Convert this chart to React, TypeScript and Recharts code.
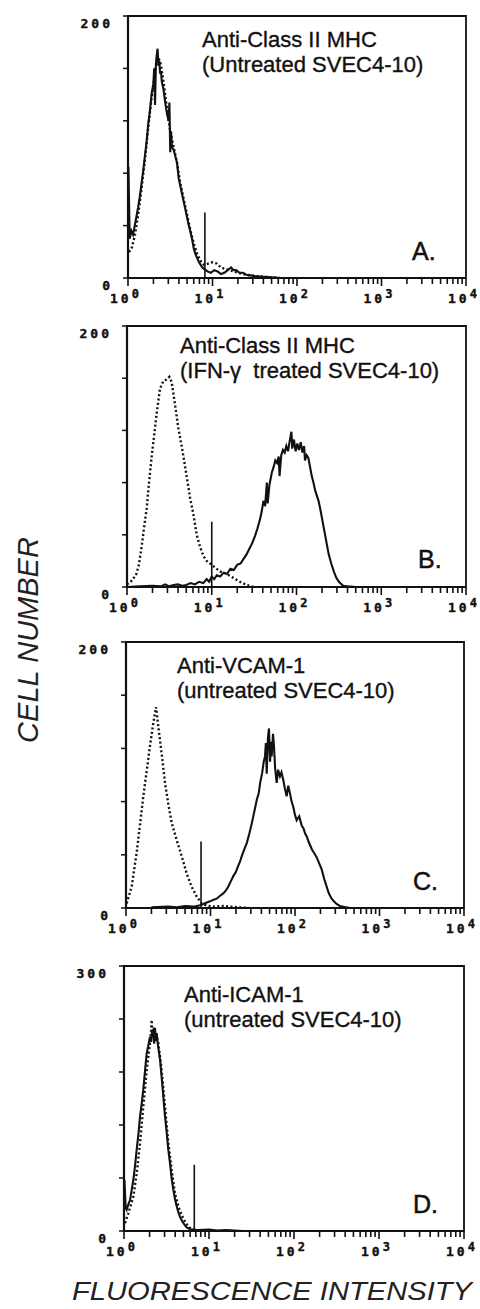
import React from "react";
import { LineChart, Line, XAxis, YAxis, ReferenceArea, ReferenceLine } from "recharts";

// x values are log10(fluorescence intensity): 0 = 10^0 ... 4 = 10^4

// A. anti-class II MHC, untreated
const aSolidLog = [0.005, 0.02, 0.04, 0.06, 0.08, 0.1, 0.12, 0.14, 0.16, 0.18, 0.2, 0.22, 0.24, 0.26, 0.28, 0.3, 0.31, 0.32, 0.33, 0.34, 0.35, 0.36, 0.37, 0.38, 0.39, 0.4, 0.42, 0.44, 0.46, 0.48, 0.49, 0.5, 0.51, 0.52, 0.54, 0.56, 0.58, 0.6, 0.62, 0.64, 0.66, 0.68, 0.7, 0.72, 0.74, 0.76, 0.78, 0.8, 0.82, 0.84, 0.86, 0.88, 0.9, 0.94, 0.98, 1.02, 1.06, 1.1, 1.14, 1.18, 1.22, 1.25, 1.28, 1.32, 1.36, 1.4, 1.45, 1.5, 1.6, 1.7, 1.8];
const aSolidCount = [85, 30, 36, 33, 40, 47, 54, 62, 72, 82, 93, 104, 118, 128, 141, 148, 160, 132, 163, 170, 175, 162, 166, 156, 158, 150, 144, 134, 126, 120, 134, 96, 112, 100, 98, 93, 88, 76, 70, 64, 58, 52, 46, 40, 35, 29, 22, 18, 15, 12, 10, 8, 7, 5, 4, 6, 5, 3, 4, 6, 8, 6, 6, 4, 4, 2.5, 2, 1.5, 1, 0.5, 0];
const aDottedLog = [0.01, 0.04, 0.08, 0.12, 0.16, 0.2, 0.24, 0.28, 0.32, 0.35, 0.38, 0.42, 0.46, 0.5, 0.54, 0.58, 0.62, 0.66, 0.7, 0.74, 0.78, 0.82, 0.86, 0.9, 0.95, 1.0, 1.05, 1.1, 1.15, 1.2, 1.25, 1.3, 1.4, 1.5, 1.6, 1.7, 1.8];
const aDottedCount = [20, 22, 32, 48, 68, 90, 115, 138, 158, 168, 166, 150, 130, 112, 100, 88, 72, 60, 48, 36, 26, 18, 13, 10, 11, 12, 11, 8, 7, 6, 5, 4, 2.5, 1.5, 1, 0.5, 0];

// B. anti-class II MHC, IFN-gamma treated
const bSolidLog = [0, 0.15, 0.3, 0.4, 0.45, 0.5, 0.55, 0.6, 0.65, 0.7, 0.75, 0.8, 0.85, 0.9, 0.94, 0.97, 1.0, 1.03, 1.06, 1.1, 1.14, 1.18, 1.22, 1.26, 1.3, 1.34, 1.37, 1.41, 1.45, 1.48, 1.51, 1.54, 1.57, 1.59, 1.61, 1.63, 1.65, 1.66, 1.68, 1.71, 1.73, 1.75, 1.77, 1.79, 1.8, 1.82, 1.84, 1.86, 1.88, 1.9, 1.92, 1.94, 1.95, 1.97, 1.99, 2.01, 2.03, 2.05, 2.07, 2.09, 2.1, 2.12, 2.14, 2.16, 2.18, 2.2, 2.22, 2.24, 2.26, 2.28, 2.3, 2.32, 2.34, 2.36, 2.38, 2.41, 2.44, 2.47, 2.5, 2.55, 2.6, 2.7];
const bSolidCount = [0, 0.5, 1, 0.5, 2, 0.5, 1.5, 2, 1, 1.5, 3, 2, 4, 3, 6, 4, 8, 6, 9, 8, 11, 10, 14, 13, 17, 18, 21, 25, 30, 34, 39, 45, 52, 58, 66, 62, 80, 64, 78, 88, 92, 97, 95, 100, 85, 101, 105, 103, 108, 104, 112, 119, 106, 113, 104, 110, 105, 111, 103, 108, 97, 101, 99, 92, 85, 80, 74, 70, 66, 60, 53, 46, 39, 32, 25, 18, 12, 7, 4, 1, 0.5, 0];
const bDottedLog = [0, 0.06, 0.11, 0.14, 0.173, 0.2, 0.232, 0.26, 0.291, 0.32, 0.35, 0.389, 0.43, 0.468, 0.5, 0.527, 0.566, 0.605, 0.645, 0.704, 0.745, 0.783, 0.822, 0.861, 0.9, 0.94, 1.018, 1.097, 1.176, 1.254, 1.333, 1.412, 1.5];
const bDottedCount = [2, 5, 10, 17, 31, 45, 60, 80, 100, 116, 133, 152, 158, 159, 161, 157, 140, 122, 108, 85, 68, 56, 40, 31, 24, 20, 16, 12, 10, 7, 4, 1.5, 0];

// C. anti-VCAM-1, untreated
const cSolidLog = [0.3, 0.5, 0.6, 0.7, 0.8, 0.88, 0.915, 0.95, 0.994, 1.03, 1.073, 1.11, 1.151, 1.18, 1.21, 1.24, 1.27, 1.3, 1.33, 1.35, 1.37, 1.4, 1.43, 1.46, 1.49, 1.51, 1.53, 1.55, 1.57, 1.59, 1.61, 1.63, 1.645, 1.655, 1.665, 1.68, 1.692, 1.705, 1.715, 1.724, 1.74, 1.751, 1.765, 1.783, 1.8, 1.822, 1.84, 1.862, 1.88, 1.901, 1.92, 1.941, 1.96, 1.98, 2.0, 2.02, 2.05, 2.079, 2.1, 2.12, 2.138, 2.16, 2.18, 2.2, 2.23, 2.257, 2.29, 2.316, 2.345, 2.375, 2.4, 2.434, 2.46, 2.493, 2.53, 2.572, 2.65];
const cSolidCount = [0.5, 1, 0.5, 1.5, 1, 2, 3, 4, 5, 6, 7, 9, 11, 13, 16, 20, 24, 27, 32, 35, 39, 44, 49, 56, 64, 70, 76, 82, 86, 95, 101, 110, 114, 124, 101, 128, 135, 110, 125, 114, 131, 122, 105, 94, 104, 99, 102, 96, 90, 84, 92, 86, 80, 76, 70, 66, 69, 62, 60, 56, 54, 50, 47, 44, 41, 38, 33, 29, 22, 16, 11, 7, 5, 3, 1.5, 1, 0];
const cDottedLog = [0.008, 0.067, 0.127, 0.166, 0.205, 0.245, 0.284, 0.323, 0.355, 0.383, 0.422, 0.462, 0.501, 0.541, 0.6, 0.659, 0.718, 0.777, 0.837, 0.896, 0.955, 1.05, 1.15, 1.25, 1.35, 1.45];
const cDottedCount = [3.5, 16, 42, 63, 84, 103, 122, 139, 151, 136, 116, 94, 78, 64, 51, 39, 26, 16, 8.5, 3.5, 1.7, 1, 1.5, 1, 0.5, 0];

// D. anti-ICAM-1, untreated
const dSolidLog = [0.005, 0.02, 0.031, 0.05, 0.071, 0.09, 0.11, 0.13, 0.149, 0.17, 0.188, 0.21, 0.227, 0.25, 0.267, 0.29, 0.306, 0.32, 0.33, 0.345, 0.355, 0.365, 0.375, 0.384, 0.4, 0.424, 0.445, 0.463, 0.48, 0.502, 0.52, 0.541, 0.56, 0.58, 0.6, 0.62, 0.64, 0.659, 0.68, 0.698, 0.72, 0.737, 0.776, 0.86, 1.0, 1.1, 1.2, 1.3, 1.4];
const dSolidCount = [58, 26, 24, 30, 35, 46, 58, 74, 92, 110, 129, 146, 160, 184, 201, 212, 220, 214, 226, 228, 212, 230, 215, 224, 210, 194, 172, 152, 132, 112, 93, 77, 60, 47, 36, 28, 21, 16, 12, 9, 6, 4, 2, 1, 1.5, 0.5, 1, 0.5, 0];
const dDottedLog = [0.012, 0.051, 0.11, 0.149, 0.188, 0.227, 0.267, 0.306, 0.318, 0.325, 0.335, 0.357, 0.38, 0.404, 0.443, 0.482, 0.522, 0.561, 0.6, 0.639, 0.678, 0.718, 0.757, 0.796, 0.9];
const dDottedCount = [9, 20, 39, 65, 99, 141, 182, 213, 225, 239, 222, 220, 222, 213, 182, 141, 99, 69, 42, 28, 18, 10.6, 5, 2, 0];

// gate marker position (log10) and height (cells)
const gateLog = [0.91, 1.0, 0.888, 0.827];
const gateHeight = [50, 50, 50, 75];

const yMaxes = [200, 200, 200, 300];
const ySteps = [40, 40, 40, 60];
const decades = [0, 1, 2, 3, 4];
const minorSteps = [2, 3, 4, 5, 6, 7, 8, 9];

const titles = [
  ["Anti-Class II MHC", "(Untreated SVEC4-10)"],
  ["Anti-Class II MHC", "(IFN-\u03b3  treated SVEC4-10)"],
  ["Anti-VCAM-1", "(untreated SVEC4-10)"],
  ["Anti-ICAM-1", "(untreated SVEC4-10)"],
];
const letters = ["A.", "B.", "C.", "D."];

const pts = (xs: number[], ys: number[]) => xs.map((x, i) => ({ x, y: ys[i] }));

const xTicks = decades.flatMap((d) =>
  d < 4 ? [d, ...minorSteps.map((m) => d + Math.log10(m))] : [d]
);

const tickFont = "'DejaVu Sans Mono', monospace";
const sans = "'Liberation Sans', Arial, Helvetica, sans-serif";
const ink = "#111";

function XTick({ x, y, payload }: any) {
  const v = payload.value;
  const major = Math.abs(v - Math.round(v)) < 1e-6;
  return (
    <g>
      <line x1={x} x2={x} y1={y} y2={y + (major ? 8 : 6)} stroke={ink} strokeWidth={1.6} />
      {major && (
        <text x={x - 18} y={y + 25} fontFamily={tickFont} fontWeight="bold" fontSize={13} letterSpacing={3} fill={ink} stroke={ink} strokeWidth={0.4}>
          10
          <tspan dy={-5} fontSize={12}>{Math.round(v)}</tspan>
        </text>
      )}
    </g>
  );
}

function makeYTick(yMax: number) {
  return ({ x, y, payload }: any) => {
    const v = payload.value;
    return (
      <g>
        <line x1={x - 5} x2={x} y1={y} y2={y} stroke={ink} strokeWidth={1.5} />
        {(v === 0 || v === yMax) && (
          <text x={x - 15} y={y + 12} textAnchor="end" fontFamily={tickFont} fontWeight="bold" fontSize={13} letterSpacing={3} fill={ink} stroke={ink} strokeWidth={0.4}>
            {v}
          </text>
        )}
      </g>
    );
  };
}

type Box = { left: number; right: number; top: number; bottom: number };

function Panel({ box, i, solid, dotted }: { box: Box; i: number; solid: any[]; dotted: any[] }) {
  const yMax = yMaxes[i];
  const yTicks: number[] = [];
  for (let v = 0; v <= yMax; v += ySteps[i]) yTicks.push(v);
  return (
    <div style={{ position: "absolute", left: 0, top: box.top - 10 }}>
      <LineChart
        width={480}
        height={box.bottom - box.top + 44}
        margin={{ top: 10, right: 480 - box.right, bottom: 0, left: 0 }}
      >
        <XAxis
          type="number"
          dataKey="x"
          domain={[0, 4]}
          ticks={xTicks}
          interval={0}
          tick={XTick}
          tickSize={0}
          tickMargin={0}
          tickLine={false}
          axisLine={{ stroke: ink, strokeWidth: 2.2 }}
          height={34}
          allowDataOverflow
        />
        <YAxis
          type="number"
          domain={[0, yMax]}
          ticks={yTicks}
          interval={0}
          tick={makeYTick(yMax)}
          tickSize={0}
          tickMargin={0}
          tickLine={false}
          axisLine={{ stroke: ink, strokeWidth: 2.2 }}
          width={box.left}
          allowDataOverflow
        />
        <ReferenceArea x1={0} x2={4} y1={0} y2={yMax} fill="none" stroke={ink} strokeWidth={1.8} />
        <ReferenceLine
          segment={[
            { x: gateLog[i], y: 0 },
            { x: gateLog[i], y: gateHeight[i] },
          ]}
          stroke={ink}
          strokeWidth={1.6}
        />
        <Line
          data={dotted}
          dataKey="y"
          type="linear"
          stroke={ink}
          strokeWidth={2.4}
          strokeDasharray="2 2.4"
          dot={false}
          isAnimationActive={false}
        />
        <Line
          data={solid}
          dataKey="y"
          type="linear"
          stroke={ink}
          strokeWidth={2.1}
          dot={false}
          isAnimationActive={false}
        />
      </LineChart>
    </div>
  );
}

const boxes: Box[] = [
  { left: 128, right: 466, top: 16, bottom: 278 },
  { left: 127, right: 466, top: 326, bottom: 587 },
  { left: 126, right: 464, top: 642, bottom: 908 },
  { left: 124, right: 464, top: 966, bottom: 1231 },
];
const titlePos = [
  { x: 202, y: 47 },
  { x: 180, y: 353 },
  { x: 177, y: 673 },
  { x: 184, y: 1002 },
];
const letterPos = [
  { x: 412, y: 260 },
  { x: 418, y: 568 },
  { x: 413, y: 890 },
  { x: 413, y: 1213 },
];

export default function App() {
  const series = [
    [pts(aSolidLog, aSolidCount), pts(aDottedLog, aDottedCount)],
    [pts(bSolidLog, bSolidCount), pts(bDottedLog, bDottedCount)],
    [pts(cSolidLog, cSolidCount), pts(cDottedLog, cDottedCount)],
    [pts(dSolidLog, dSolidCount), pts(dDottedLog, dDottedCount)],
  ];
  return (
    <div style={{ position: "absolute", left: 0, top: 0, width: 480, height: 1309, background: "#fff", overflow: "hidden" }}>
      {boxes.map((b, i) => (
        <Panel key={i} box={b} i={i} solid={series[i][0]} dotted={series[i][1]} />
      ))}
      <svg width={480} height={1309} style={{ position: "absolute", left: 0, top: 0, pointerEvents: "none" }}>
        {titles.map((t, i) => (
          <text key={i} fontFamily={sans} fontSize={22} fill={ink} stroke={ink} strokeWidth={0.35} style={{ whiteSpace: "pre" }}>
            <tspan x={titlePos[i].x} y={titlePos[i].y}>{t[0]}</tspan>
            <tspan x={titlePos[i].x} y={titlePos[i].y + 25}>{t[1]}</tspan>
          </text>
        ))}
        {letters.map((l, i) => (
          <text key={l} x={letterPos[i].x} y={letterPos[i].y} fontFamily={sans} fontSize={25} fill={ink} stroke={ink} strokeWidth={0.5}>
            {l}
          </text>
        ))}
        <text transform="translate(38,640) rotate(-90)" textAnchor="middle" fontFamily={sans} fontStyle="italic" fontSize={29} fill="#222">
          CELL NUMBER
        </text>
        <text x={72} y={1300} fontFamily={sans} fontStyle="italic" fontSize={26} fill="#222" textLength={400} lengthAdjust="spacingAndGlyphs">
          FLUORESCENCE INTENSITY
        </text>
      </svg>
    </div>
  );
}
